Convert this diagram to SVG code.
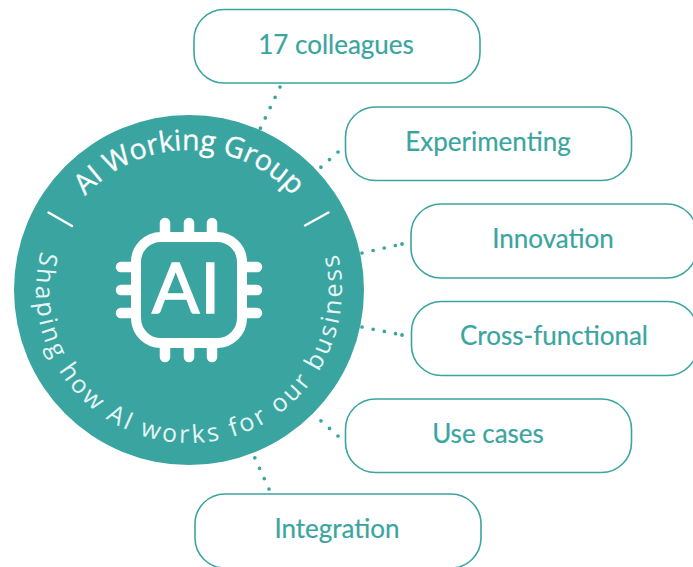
<svg xmlns="http://www.w3.org/2000/svg" width="693" height="567" viewBox="0 0 693 567">
<style>
.node{fill:#fff;stroke:#3aa5a0;stroke-width:1.6}
.lbl{font-family:Lato,"Liberation Sans",sans-serif;font-size:26px;fill:#3aa5a0;stroke:#3aa5a0;stroke-width:.2;text-anchor:middle}
.dot{fill:none;stroke:#3aa5a0;stroke-width:3.700;stroke-linecap:round;stroke-dasharray:0 11.4}
.end{fill:#3aa5a0}
.wl{stroke:#fff;fill:none;stroke-linecap:round}
</style>
<defs>
<path id="arcTop" d="M49 290A140 140 0 0 1 329 290"/>
<path id="arcBot" d="M56.500 213.500A153 153 0 1 0 321.500 213.500"/>
</defs>
<g id="connectors">
<path class="dot" d="M280 87L260 129"/>
<path class="dot" d="M338 152L320 168"/>
<path class="dot" d="M362 253L402 244"/><circle class="end" cx="402" cy="244" r="1.900"/>
<path class="dot" d="M362 327L402 335"/><circle class="end" cx="402" cy="335" r="1.900"/>
<path class="dot" d="M338 436L320 420"/>
<path class="dot" d="M269 489L254 456"/>
</g>
<g id="hub">
<circle cx="189" cy="290" r="175" fill="#3aa5a0"/>
<text font-family="'Open Sans',sans-serif" font-size="28.500" letter-spacing="-.1" stroke="#fff" stroke-width=".3" fill="#fff" text-anchor="middle"><textPath href="#arcTop" startOffset="50%">AI Working Group</textPath></text>
<text font-family="'Open Sans',sans-serif" font-size="25" letter-spacing="2.900" fill="#e6f5f4" text-anchor="middle"><textPath href="#arcBot" startOffset="50%">Shaping how AI works for our business</textPath></text>
<path class="wl" stroke-width="2.4" d="M48.500 212.500L72 226M328.500 212.500L305 225.500"/>
<rect class="wl" x="136" y="237" width="106" height="106" rx="25" stroke-width="10"/>
<path class="wl" stroke-width="10.500" d="M165 223V232M189 223V232M212 223V232M165 348V357M189 348V357M212 348V357M121 267H131M121 290H131M121 313H131M247 267H257M247 290H257M247 313H257"/>
<text x="186.500" y="313" font-family="Lato,sans-serif" font-size="70" letter-spacing="1" fill="#fff" stroke="#fff" stroke-width="1.500" text-anchor="middle">AI</text>
</g>
<g id="node-colleagues"><rect class="node" x="194" y="9.500" width="286" height="73.500" rx="30"/><text class="lbl" x="336" y="53.500">17 colleagues</text></g>
<g id="node-experimenting"><rect class="node" x="345.500" y="107" width="286" height="73.500" rx="30"/><text class="lbl" x="488" y="150.500">Experimenting</text></g>
<g id="node-innovation"><rect class="node" x="411" y="204" width="286" height="74" rx="30"/><text class="lbl" x="553" y="247.500">Innovation</text></g>
<g id="node-cross-functional"><rect class="node" x="411.500" y="301.500" width="286" height="74" rx="30"/><text class="lbl" x="554" y="345">Cross-functional</text></g>
<g id="node-use-cases"><rect class="node" x="345.500" y="399" width="286" height="73.500" rx="30"/><text class="lbl" x="488" y="442.500">Use cases</text></g>
<g id="node-integration"><rect class="node" x="195" y="494" width="286" height="74" rx="30"/><text class="lbl" x="337" y="537.500">Integration</text></g>
</svg>
